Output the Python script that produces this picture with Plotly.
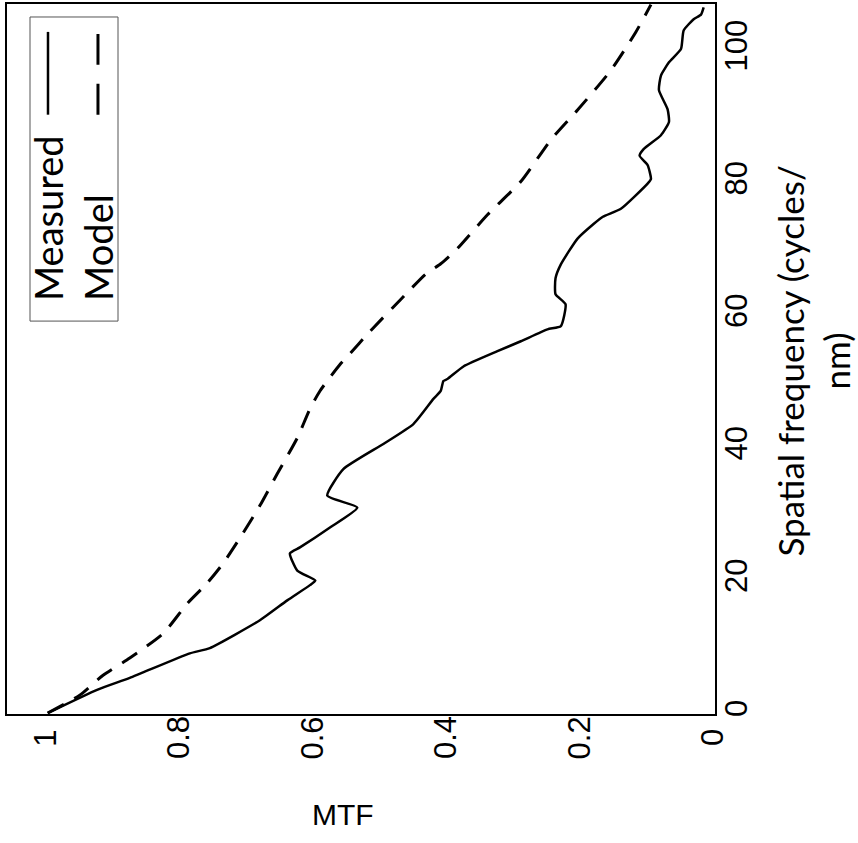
import plotly.graph_objects as go

# Measured MTF curve (spatial frequency, MTF)
measured_freq = [0.0, 3.5, 5.3, 9.0, 9.8, 14.0, 17.0, 19.3, 20.0, 21.5, 24.1, 25.0, 28.0, 31.0,
                 32.8, 36.8, 40.6, 43.6, 47.4, 48.6, 50.1, 50.4, 52.3, 54.6, 56.1, 57.9, 58.4,
                 61.7, 63.2, 65.6, 67.7, 71.6, 73.8, 74.9, 76.1, 79.9, 80.6, 82.7, 84.1, 85.1,
                 87.2, 89.2, 91.1, 94.0, 96.2, 98.2, 100.2, 103.0, 104.7, 105.4, 106.5]
measured_mtf = [0.997, 0.923, 0.874, 0.784, 0.754, 0.679, 0.638, 0.604, 0.596, 0.623, 0.634,
                0.619, 0.574, 0.533, 0.578, 0.554, 0.494, 0.449, 0.419, 0.408, 0.404, 0.398,
                0.374, 0.323, 0.288, 0.248, 0.228, 0.221, 0.236, 0.236, 0.228, 0.203, 0.179,
                0.165, 0.138, 0.098, 0.093, 0.098, 0.110, 0.104, 0.078, 0.066, 0.068, 0.081,
                0.078, 0.066, 0.048, 0.044, 0.029, 0.018, 0.014]

# Model MTF curve
model_freq = [0.0, 2.7, 5.7, 8.3, 12.0, 16.5, 19.6, 22.6, 27.2, 31.3, 36.1, 41.5, 45.9, 48.6,
              52.6, 53.8, 57.6, 62.4, 66.2, 67.8, 70.1, 75.2, 80.2, 86.5, 91.0, 97.0, 102.7, 106.9]
model_mtf = [0.997, 0.949, 0.914, 0.874, 0.824, 0.788, 0.758, 0.734, 0.704, 0.679, 0.653, 0.623,
             0.604, 0.589, 0.559, 0.548, 0.514, 0.468, 0.431, 0.408, 0.383, 0.338, 0.288, 0.243,
             0.203, 0.153, 0.116, 0.093]

mtf_ticks = [0, 0.2, 0.4, 0.6, 0.8, 1]
mtf_tick_labels = ["0", "0.2", "0.4", "0.6", "0.8", "1"]
freq_ticks = [0, 20, 40, 60, 80, 100]
freq_tick_labels = ["0", "20", "40", "60", "80", "100"]

fig = go.Figure()
fig.add_trace(go.Scatter(x=measured_mtf, y=measured_freq, mode="lines", name="Measured",
                         line=dict(color="black", width=2.5, shape="spline", smoothing=0.5)))
fig.add_trace(go.Scatter(x=model_mtf, y=model_freq, mode="lines", name="Model",
                         line=dict(color="black", width=3, dash="18px,12px", shape="spline", smoothing=0.6)))

tick_font = dict(family="Liberation Sans, Arial, sans-serif", size=31, color="black")
text_font = "Lato, Open Sans, sans-serif"

fig.update_layout(
    width=858, height=843,
    margin=dict(l=7, r=143, t=2, b=129),
    paper_bgcolor="white", plot_bgcolor="white",
    showlegend=False,
    xaxis=dict(range=[1.058, -0.003], tickvals=mtf_ticks, showticklabels=False,
               showgrid=False, zeroline=False,
               showline=True, linecolor="black", linewidth=1.5, mirror=True, ticks=""),
    yaxis=dict(range=[-0.15, 107], tickvals=freq_ticks, ticktext=freq_tick_labels,
               side="right", tickangle=-90, tickfont=tick_font, showgrid=False, zeroline=False,
               showline=True, linecolor="black", linewidth=1.5, mirror=True, ticks="",
               ticklabelstandoff=-7),
)

# MTF tick labels, rotated and centred below the axis
for v, lab in zip(mtf_ticks, mtf_tick_labels):
    fig.add_annotation(text=lab, xref="x", yref="paper", x=v, y=-0.0337,
                       xanchor="center", yanchor="middle", textangle=-90, showarrow=False,
                       borderpad=0, font=tick_font)

# Manual legend (rotated)
fig.add_shape(type="rect", xref="paper", yref="paper", x0=0.0325, x1=0.1568, y0=0.5534, y1=0.9817,
              line=dict(color="#555555", width=1), fillcolor="white")
fig.add_shape(type="line", xref="paper", yref="paper", x0=0.0579, x1=0.0579, y0=0.8441, y1=0.9607,
              line=dict(color="black", width=2.5))
fig.add_shape(type="line", xref="paper", yref="paper", x0=0.1285, x1=0.1285, y0=0.8441, y1=0.9579,
              line=dict(color="black", width=3, dash="31px,19px"))
fig.add_annotation(text="Measured", xref="paper", yref="paper", x=0.0579, y=0.5787,
                   xanchor="center", yanchor="bottom", textangle=-90, showarrow=False,
                   font=dict(family=text_font, size=38, color="black"))
fig.add_annotation(text="Model", xref="paper", yref="paper", x=0.1275, y=0.5787,
                   xanchor="center", yanchor="bottom", textangle=-90, showarrow=False,
                   font=dict(family=text_font, size=38, color="black"))

# Axis titles
fig.add_annotation(text="Spatial frequency (cycles/<br>nm)", xref="paper", yref="paper",
                   x=1.139, y=0.497, xanchor="center", yanchor="middle", textangle=-90,
                   showarrow=False, borderpad=0, font=dict(family=text_font, size=35, color="black"))
fig.add_annotation(text="MTF", xref="paper", yref="paper", x=0.4746, y=-0.1419,
                   xanchor="center", yanchor="middle", showarrow=False,
                   font=dict(family="Liberation Sans, Arial, sans-serif", size=30, color="black"))

fig.write_html("out.html", config={"displayModeBar": False},
               post_script="document.body.style.margin='0px';")
